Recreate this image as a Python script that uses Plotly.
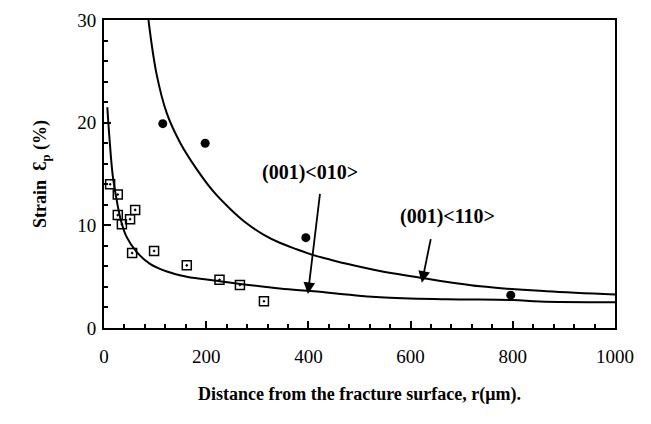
import plotly.graph_objects as go

# Data
sq_x = [12, 27, 27, 35, 51, 61, 55, 98, 162, 226, 266, 313]
sq_y = [14.0, 13.0, 11.0, 10.1, 10.6, 11.5, 7.3, 7.5, 6.1, 4.7, 4.2, 2.6]

ci_x = [115, 198, 395, 796]
ci_y = [19.9, 18.0, 8.8, 3.2]

low_x = [6.5, 10.4, 17, 25, 33, 44, 64, 90, 123, 162, 220, 344, 410, 540, 670, 800, 853, 1000]
low_y = [21.5, 18.7, 14.9, 12.4, 10.5, 8.9, 7.4, 6.25, 5.5, 5.0, 4.6, 3.84, 3.58, 3.0, 2.8, 2.72, 2.58, 2.5]

up_x = [87, 103, 123, 149, 181, 214, 247, 279, 312, 344, 377, 410, 442, 475, 540, 625, 736, 866, 1000]
up_y = [30, 24.7, 20.9, 18.05, 15.5, 13.3, 11.6, 10.2, 9.1, 8.3, 7.67, 7.1, 6.67, 6.25, 5.55, 4.85, 4.06, 3.58, 3.26]

x_ticks = [0, 200, 400, 600, 800, 1000]
y_ticks = [0, 10, 20, 30]

labels = ["(001)<010>", "(001)<110>"]
label_pos = [(403, 15.1), (673, 10.85)]
arrow_tail = [(423, 13.2), (640, 8.8)]
arrow_head = [(399, 3.3), (622, 4.4)]

FONT = "Liberation Serif"

fig = go.Figure()
for cx, cy in [(low_x, low_y), (up_x, up_y)]:
    fig.add_trace(go.Scatter(x=cx, y=cy, mode="lines",
                             line=dict(color="black", width=2, shape="spline", smoothing=1.0),
                             showlegend=False, hoverinfo="skip"))
fig.add_trace(go.Scatter(x=sq_x, y=sq_y, mode="markers",
                         marker=dict(symbol="square-open-dot", size=9, color="black",
                                     line=dict(width=1.5)),
                         showlegend=False))
fig.add_trace(go.Scatter(x=ci_x, y=ci_y, mode="markers",
                         marker=dict(symbol="circle", size=9, color="black"),
                         showlegend=False))

for txt, (lx, ly) in zip(labels, label_pos):
    fig.add_annotation(x=lx, y=ly, text=f"<b>{txt.replace('<', '&lt;').replace('>', '&gt;')}</b>",
                       showarrow=False, font=dict(family=FONT, size=20, color="black"))
for (tx, ty), (hx, hy) in zip(arrow_tail, arrow_head):
    fig.add_annotation(x=hx, y=hy, ax=tx, ay=ty, axref="x", ayref="y", xref="x", yref="y",
                       text="", showarrow=True, arrowhead=2, arrowsize=1.3,
                       arrowwidth=1.8, arrowcolor="black")

axis_common = dict(showline=True, linecolor="black", linewidth=2, mirror=True,
                   ticks="inside", tickcolor="black", ticklen=7, tickwidth=1.5,
                   showgrid=False, zeroline=False,
                   tickfont=dict(family=FONT, size=19, color="black"))
fig.update_xaxes(range=[0, 1000], tickvals=x_ticks, ticktext=[str(v) for v in x_ticks],
                 minor=dict(ticks="inside", ticklen=4, tickcolor="black", dtick=40, tick0=0),
                 ticklabelstandoff=10,
                 title=dict(text="<b>Distance from the fracture surface, r(μm).</b>",
                            font=dict(family=FONT, size=18, color="black"), standoff=22),
                 **axis_common)
fig.update_yaxes(range=[0, 30], tickvals=y_ticks, ticktext=[str(v) for v in y_ticks],
                 minor=dict(ticks="inside", ticklen=4, tickcolor="black", dtick=2, tick0=0),
                 ticklabelstandoff=2,
                 title=dict(text="<b>Strain  Ɛ<sub>p</sub> (%)</b>",
                            font=dict(family=FONT, size=18, color="black"), standoff=26),
                 **axis_common)

fig.update_layout(width=651, height=424, margin=dict(l=104, r=36, t=10, b=96),
                  plot_bgcolor="white", paper_bgcolor="white")

fig.write_html("out.html", config={"displayModeBar": False},
               post_script="document.body.style.margin='0';")
